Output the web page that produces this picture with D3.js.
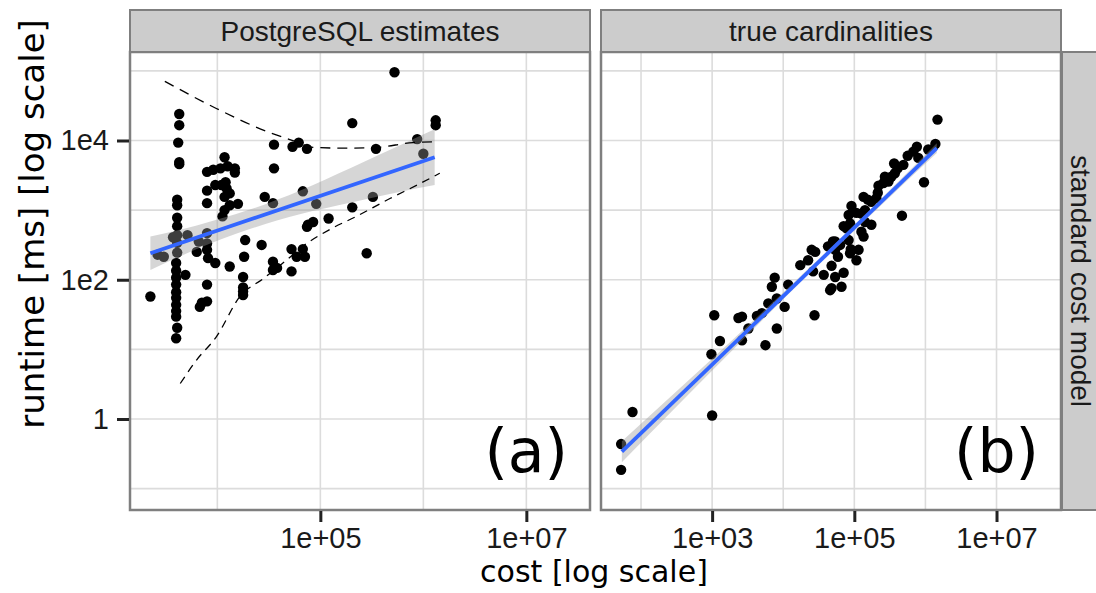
<!DOCTYPE html>
<html><head><meta charset="utf-8">
<script src="https://cdn.jsdelivr.net/npm/d3@7"></script>
<style>body{margin:0;background:#fff}svg{display:block}</style>
</head><body><svg id="c" width="1096" height="593"></svg>
<script>
// ---------- DATA (stored as log10) ----------
const facetLabels = ["PostgreSQL estimates", "true cardinalities"];
const rowLabel = "standard cost model";
const panelTags = ["(a)", "(b)"];
const xTitle = "cost [log scale]";
const yTitle = "runtime [ms] [log scale]";
const yTickValues = [1, 1e2, 1e4];
const yTickLabels = ["1", "1e2", "1e4"];
const yMinorValues = [1e-1, 1e1, 1e3, 1e5];
const xTickValuesA = [1e5, 1e7];
const xTickLabelsA = ["1e+05", "1e+07"];
const xMinorValuesA = [1e4, 1e6];
const xTickValuesB = [1e3, 1e5, 1e7];
const xTickLabelsB = ["1e+03", "1e+05", "1e+07"];
const xMinorValuesB = [1e2, 1e4, 1e6];

// panel (a): PostgreSQL estimates — log10(cost), log10(runtime)
const estCostLog = [3.35,
 3.63,3.63,3.62,3.63,3.63,3.61,3.61,3.61,3.61,3.61,3.61,3.61,3.60,3.60,3.60,3.60,3.60,3.60,3.60,3.60,3.60,3.61,3.60,
 3.57,3.69,3.71,3.42,3.48,
 3.90,3.96,4.03,4.07,4.10,4.17,4.17,3.90,3.98,4.04,4.08,4.09,3.90,4.07,4.12,4.12,4.20,4.07,4.05,3.90,3.82,3.90,3.80,3.90,3.91,3.98,4.12,3.90,3.83,3.90,3.85,
 4.27,4.26,4.25,4.25,4.25,4.25,4.43,4.55,4.55,4.46,4.54,4.54,4.58,4.54,4.72,4.73,4.79,4.87,4.83,4.96,4.88,4.93,4.87,5.08,4.72,4.83,4.77,4.85,
 5.31,5.31,5.45,5.51,5.54,5.72,5.94,6.00,6.12,6.12];
const estRuntimeLog = [1.76,
 4.38,4.22,3.97,3.69,3.66,3.15,3.07,2.89,2.77,2.64,2.53,2.39,2.24,2.13,2.03,1.93,1.82,1.74,1.64,1.55,1.47,1.31,1.16,
 2.61,2.07,2.64,2.36,2.33,
 3.55,3.58,3.60,3.76,3.63,3.60,3.54,3.28,3.36,3.36,3.40,3.31,3.10,3.19,3.24,3.07,3.09,3.00,2.91,2.67,2.55,2.52,2.40,2.43,2.31,2.24,2.19,1.93,1.61,1.69,1.67,
 2.57,2.33,2.04,1.89,1.83,1.78,2.50,3.94,3.60,3.19,3.10,2.26,2.17,2.14,2.12,3.91,3.97,3.88,3.27,3.09,2.79,2.83,2.76,2.88,2.44,2.44,2.33,2.33,
 4.25,3.04,2.38,3.19,3.88,4.98,4.02,3.81,4.29,4.22];

// panel (b): true cardinalities
const trueCostLog = [6.17,6.14,5.88,6.04,5.75,5.90,5.56,5.69,5.61,5.57,5.52,5.48,5.41,5.34,5.98,5.31,5.13,5.24,5.67,
 4.96,4.92,5.03,4.85,4.94,4.89,5.15,5.24,5.10,5.13,4.70,4.80,4.92,4.63,4.73,4.77,4.95,5.06,5.03,4.94,
 4.45,4.35,4.24,4.42,4.57,4.68,4.73,4.85,4.68,4.82,4.66,3.88,3.84,4.07,3.79,3.91,4.02,3.63,3.70,4.44,3.91,
 3.37,3.42,3.51,3.03,3.11,3.75,3.42,2.99,3.00,1.88,1.72,1.72,
 5.19,5.33,5.10,5.15,5.43,5.83,4.73,4.40];
const trueRuntimeLog = [4.30,3.95,3.91,3.87,3.78,3.75,3.67,3.65,3.60,3.53,3.48,3.41,3.39,3.35,3.40,3.17,3.19,3.12,2.92,
 3.06,2.93,2.96,2.77,2.81,2.74,2.83,2.79,2.69,2.62,2.55,2.50,2.57,2.48,2.43,2.33,2.44,2.43,2.28,2.38,
 2.40,2.28,2.21,2.12,2.07,2.20,2.04,2.10,1.88,1.90,1.85,2.03,1.90,1.93,1.66,1.73,1.61,1.48,1.52,1.49,1.30,
 1.45,1.47,1.30,1.49,1.12,1.06,1.13,0.93,0.05,0.10,-0.36,-0.73,
 3.15,3.25,2.95,3.00,3.48,3.84,2.55,2.43];

// fitted lines and confidence ribbons
const fitAx = [3.35, 6.11], fitAy = [2.38, 3.76];
const bandAx  = [3.35, 3.8, 4.3, 4.8, 5.3, 5.8, 6.11];
const bandAlo = [2.14, 2.44, 2.72, 2.94, 3.11, 3.27, 3.36];
const bandAhi = [2.62, 2.78, 3.00, 3.28, 3.61, 3.95, 4.16];
const fitBx = [1.73, 6.16], fitBy = [-0.47, 3.89];
const bandBx  = [1.73, 2.5, 3.3, 4.2, 4.8, 5.5, 6.16];
const bandBlo = [-0.62, 0.18, 1.00, 1.92, 2.51, 3.19, 3.82];
const bandBhi = [-0.32, 0.40, 1.15, 2.01, 2.59, 3.29, 3.96];
// dashed bound curves in panel (a)
const upperDashX = [3.49, 3.99, 4.48, 4.77, 4.93, 5.26, 5.55, 5.90, 6.14];
const upperDashY = [4.85, 4.46, 4.13, 3.98, 3.90, 3.89, 3.90, 3.97, 3.98];
const lowerDashX = [3.64, 3.80, 3.99, 4.22, 4.45, 4.67, 4.83, 5.09, 5.35, 5.68, 5.94, 6.16];
const lowerDashY = [0.51, 0.85, 1.18, 1.76, 2.02, 2.28, 2.48, 2.72, 2.91, 3.17, 3.36, 3.53];

// ---------- LAYOUT ----------
const P = (v) => Math.pow(10, v);
const svg = d3.select("#c");
const yTop = 52, yBot = 510, stripTop = 10;
const panels = [
  {x0: 130, x1: 590, dom: [3.152, 7.618], ticks: xTickValuesA, labels: xTickLabelsA, minor: xMinorValuesA,
   cx: estCostLog, cy: estRuntimeLog, fx: fitAx, fy: fitAy, bx: bandAx, blo: bandAlo, bhi: bandAhi, dashed: true},
  {x0: 601, x1: 1061, dom: [1.437, 7.907], ticks: xTickValuesB, labels: xTickLabelsB, minor: xMinorValuesB,
   cx: trueCostLog, cy: trueRuntimeLog, fx: fitBx, fy: fitBy, bx: bandBx, blo: bandBlo, bhi: bandBhi, dashed: false}
];
const y = d3.scaleLog().domain([P(-1.307), P(5.271)]).range([yBot, yTop]);
const gridCol = "#dcdcdc", borderCol = "#7f7f7f";
const sansNarrow = "'Liberation Sans', Arial, sans-serif";
const sansWide = "'DejaVu Sans', Verdana, sans-serif";

panels.forEach((p, i) => {
  const x = d3.scaleLog().domain(p.dom.map(P)).range([p.x0, p.x1]);
  const g = svg.append("g");
  const clipId = "clip" + i;
  svg.append("clipPath").attr("id", clipId).append("rect")
    .attr("x", p.x0).attr("y", yTop).attr("width", p.x1 - p.x0).attr("height", yBot - yTop);
  g.append("rect").attr("x", p.x0).attr("y", yTop).attr("width", p.x1 - p.x0).attr("height", yBot - yTop).attr("fill", "#fff");
  const gg = g.append("g").attr("clip-path", `url(#${clipId})`);
  // grid
  gg.selectAll(".hy").data(yMinorValues.concat(yTickValues)).join("line")
    .attr("x1", p.x0).attr("x2", p.x1).attr("y1", d => y(d)).attr("y2", d => y(d))
    .attr("stroke", gridCol).attr("stroke-width", 1.6);
  gg.selectAll(".vx").data(p.minor.concat(p.ticks)).join("line")
    .attr("y1", yTop).attr("y2", yBot).attr("x1", d => x(d)).attr("x2", d => x(d))
    .attr("stroke", gridCol).attr("stroke-width", 1.6);
  // points
  gg.selectAll("circle").data(p.cx.map((c, k) => [P(c), P(p.cy[k])])).join("circle")
    .attr("cx", d => x(d[0])).attr("cy", d => y(d[1])).attr("r", 5.2).attr("fill", "#000");
  // ribbon
  const band = p.bx.map((b, k) => ({x: P(b), lo: P(p.blo[k]), hi: P(p.bhi[k])}));
  gg.append("path").datum(band)
    .attr("d", d3.area().x(d => x(d.x)).y0(d => y(d.lo)).y1(d => y(d.hi)).curve(d3.curveMonotoneX))
    .attr("fill", "#999999").attr("fill-opacity", 0.4);
  // fit line
  gg.append("path").datum(p.fx.map((f, k) => [P(f), P(p.fy[k])]))
    .attr("d", d3.line().x(d => x(d[0])).y(d => y(d[1])))
    .attr("stroke", "#3366FF").attr("stroke-width", 3.8).attr("fill", "none");
  if (p.dashed) {
    [[upperDashX, upperDashY, "10,7"], [lowerDashX, lowerDashY, "8,6"]].forEach(([dx, dy, da]) => {
      gg.append("path").datum(dx.map((v, k) => [P(v), P(dy[k])]))
        .attr("d", d3.line().x(d => x(d[0])).y(d => y(d[1])).curve(d3.curveMonotoneX))
        .attr("stroke", "#000").attr("stroke-width", 1.3).attr("stroke-dasharray", da).attr("fill", "none");
    });
  }
  // tag
  g.append("text").attr("x", p.x1 - 22).attr("y", 472).attr("text-anchor", "end")
    .attr("font-family", sansWide).attr("font-size", 60).attr("fill", "#000").text(panelTags[i]);
  // border
  g.append("rect").attr("x", p.x0).attr("y", yTop).attr("width", p.x1 - p.x0).attr("height", yBot - yTop)
    .attr("fill", "none").attr("stroke", borderCol).attr("stroke-width", 2.5);
  // strip
  g.append("rect").attr("x", p.x0).attr("y", stripTop).attr("width", p.x1 - p.x0).attr("height", yTop - stripTop)
    .attr("fill", "#cccccc").attr("stroke", borderCol).attr("stroke-width", 2);
  g.append("text").attr("x", (p.x0 + p.x1) / 2).attr("y", (stripTop + yTop) / 2).attr("dy", "0.36em")
    .attr("text-anchor", "middle").attr("font-family", sansNarrow).attr("font-size", 28).attr("fill", "#1a1a1a")
    .text(facetLabels[i]);
  // x axis
  const ax = svg.append("g").attr("transform", `translate(0,${yBot + 1})`)
    .call(d3.axisBottom(x).tickValues(p.ticks).tickFormat((d, k) => p.labels[k]).tickSize(11).tickPadding(5));
  ax.select(".domain").remove();
  ax.selectAll(".tick line").attr("stroke", "#222").attr("stroke-width", 3);
  ax.selectAll(".tick text").attr("font-family", sansNarrow).attr("font-size", 29).attr("fill", "#1a1a1a");
});

// y axis
const ay = svg.append("g").attr("transform", "translate(129,0)")
  .call(d3.axisLeft(y).tickValues(yTickValues).tickFormat((d, k) => yTickLabels[k]).tickSize(12).tickPadding(8));
ay.select(".domain").remove();
ay.selectAll(".tick line").attr("stroke", "#222").attr("stroke-width", 3);
ay.selectAll(".tick text").attr("font-family", sansNarrow).attr("font-size", 29).attr("fill", "#1a1a1a");

// right strip
svg.append("rect").attr("x", 1062).attr("y", yTop).attr("width", 42).attr("height", yBot - yTop)
  .attr("fill", "#cccccc").attr("stroke", borderCol).attr("stroke-width", 2);
svg.append("text").attr("transform", `translate(1081,${(yTop + yBot) / 2}) rotate(90)`).attr("dy", "0.36em")
  .attr("text-anchor", "middle").attr("font-family", sansNarrow).attr("font-size", 28).attr("fill", "#1a1a1a")
  .text(rowLabel);

// axis titles
svg.append("text").attr("x", 594).attr("y", 582).attr("text-anchor", "middle")
  .attr("font-family", sansWide).attr("font-size", 30).attr("fill", "#000").text(xTitle);
svg.append("text").attr("transform", "translate(44,224) rotate(-90)").attr("text-anchor", "middle")
  .attr("font-family", sansWide).attr("font-size", 34).attr("fill", "#000").text(yTitle);
</script></body></html>
